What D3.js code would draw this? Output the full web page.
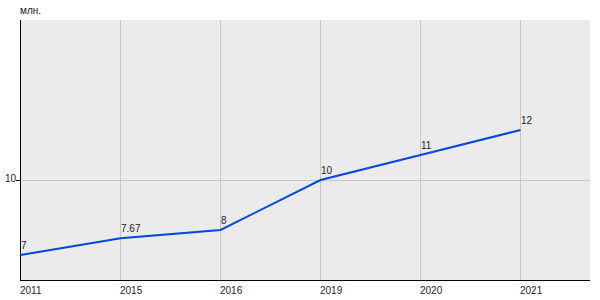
<!DOCTYPE html>
<html>
<head>
<meta charset="utf-8">
<script src="https://cdn.jsdelivr.net/npm/d3@7"></script>
<style>
  body { margin: 0; background: #fff; }
  text { font-family: "Liberation Sans", Arial, sans-serif; font-size: 10px; fill: #222; }
</style>
</head>
<body>
<svg id="chart" width="600" height="300"></svg>
<script>
// chart data
const years = ["2011", "2015", "2016", "2019", "2020", "2021"];
const values = [7, 7.67, 8, 10, 11, 12];
const valueLabels = ["7", "7.67", "8", "10", "11", "12"];
const yTicks = [10];
const unitLabel = "млн.";

const svg = d3.select("#chart");
const plotLeft = 20, plotRight = 590, plotTop = 20, plotBottom = 280;

let x = d3.scalePoint().domain(years).range([plotLeft, plotLeft + 100 * (years.length - 1)]);
let y = d3.scaleLinear().domain([6, 16.4]).range([plotBottom, plotTop]);

// background
svg.append("rect").attr("x", plotLeft).attr("y", plotTop)
  .attr("width", plotRight - plotLeft).attr("height", plotBottom - plotTop)
  .attr("fill", "#ebebeb");

// vertical grid
svg.append("g").selectAll("line").data(years).join("line")
  .attr("x1", d => x(d) + 0.5).attr("x2", d => x(d) + 0.5)
  .attr("y1", plotTop).attr("y2", plotBottom)
  .attr("stroke", "#c8c8c8");

// horizontal grid
svg.append("g").selectAll("line").data(yTicks).join("line")
  .attr("x1", plotLeft).attr("x2", plotRight)
  .attr("y1", d => Math.round(y(d)) + 0.5).attr("y2", d => Math.round(y(d)) + 0.5)
  .attr("stroke", "#c8c8c8");

// y tick marks and labels
svg.append("g").selectAll("line").data(yTicks).join("line")
  .attr("x1", plotLeft - 4).attr("x2", plotLeft)
  .attr("y1", d => Math.round(y(d)) + 0.5).attr("y2", d => Math.round(y(d)) + 0.5)
  .attr("stroke", "#000");
svg.append("g").selectAll("text").data(yTicks).join("text")
  .attr("x", 5).attr("y", d => y(d) + 2)
  .text(d => d);

// axes lines
svg.append("line").attr("x1", plotLeft + 0.5).attr("x2", plotLeft + 0.5)
  .attr("y1", plotTop).attr("y2", plotBottom).attr("stroke", "#000");
svg.append("line").attr("x1", plotLeft).attr("x2", plotRight)
  .attr("y1", plotBottom + 0.5).attr("y2", plotBottom + 0.5).attr("stroke", "#000");

// x labels
svg.append("g").selectAll("text").data(years).join("text")
  .attr("x", d => x(d)).attr("y", 294)
  .text(d => d);

// unit label
svg.append("text").attr("x", 20).attr("y", 14).text(unitLabel);

// line
let line = d3.line().x((d, i) => x(years[i]) + 0.5).y(d => y(d));
svg.append("path").datum(values)
  .attr("d", line)
  .attr("fill", "none")
  .attr("stroke", "#0047e0")
  .attr("stroke-width", 2);

// value labels
svg.append("g").selectAll("text").data(values).join("text")
  .attr("x", (d, i) => x(years[i]) + 1)
  .attr("y", d => y(d) - 6)
  .text((d, i) => valueLabels[i]);
</script>
</body>
</html>
